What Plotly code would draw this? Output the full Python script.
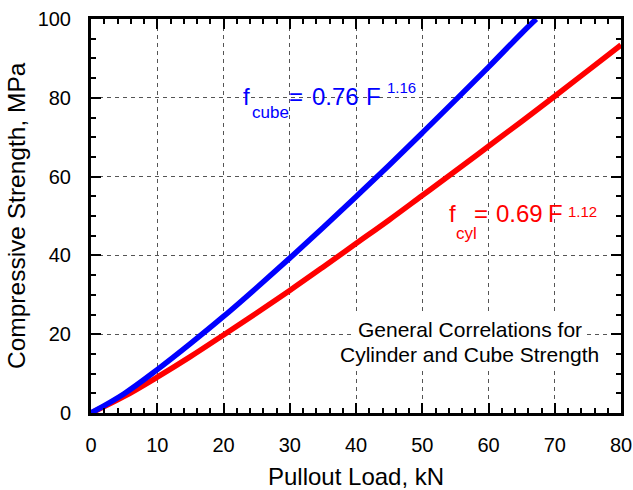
import plotly.graph_objects as go

# Pullout load, kN
load_cube = [0, 5, 10, 15, 20, 25, 30, 35, 40, 45, 50, 55, 60, 65, 67.2]
strength_cube = [0, 4.9, 11.0, 17.6, 24.5, 31.8, 39.3, 47.0, 54.9, 62.9, 71.1, 79.4, 87.8, 96.4, 100]

load_cyl = [0, 5, 10, 15, 20, 25, 30, 35, 40, 45, 50, 55, 60, 65, 70, 75, 80]
strength_cyl = [0, 4.2, 9.1, 14.3, 19.8, 25.4, 31.1, 37.0, 43.0, 49.0, 55.2, 61.4, 67.7, 74.0, 80.4, 86.9, 93.4]

x_ticks = [0, 10, 20, 30, 40, 50, 60, 70, 80]
y_ticks = [0, 20, 40, 60, 80, 100]
x_range = [0, 80]
y_range = [0, 100]

FONT = "Liberation Sans, Arial, sans-serif"
BLUE = "#0000ff"
RED = "#ff0000"

fig = go.Figure()
fig.add_trace(go.Scatter(x=load_cyl, y=strength_cyl, mode="lines",
                         line=dict(color=RED, width=5.5, shape="spline"),
                         showlegend=False))
# blue curve on the overlay subplot (drawn on top, as in the reference)
fig.add_trace(go.Scatter(x=load_cube, y=strength_cube, mode="lines", xaxis="x2", yaxis="y2",
                         line=dict(color=BLUE, width=5.5, shape="spline"),
                         showlegend=False))

# main axes: labels + dashed grid (transparent outside ticks only set the label gap)
label_axis = dict(
    showline=False, ticks="outside", tickcolor="rgba(0,0,0,0)", tickwidth=1,
    showgrid=True, gridcolor="#555", gridwidth=1, griddash="4px,4px",
    zeroline=False, automargin=False,
    tickfont=dict(family=FONT, size=20, color="black"),
)
# overlay axes: frame + inside major/minor ticks on all four sides
frame_axis = dict(
    showline=True, linecolor="black", linewidth=2.5, mirror="allticks",
    ticks="inside", ticklen=10, tickwidth=2, tickcolor="black",
    showgrid=False, zeroline=False, showticklabels=False, automargin=False,
)

fig.update_layout(
    xaxis=dict(range=x_range, tickvals=x_ticks, ticklen=14, **label_axis),
    yaxis=dict(range=y_range, tickvals=y_ticks, ticklen=15, **label_axis),
    xaxis2=dict(range=x_range, tickvals=x_ticks, overlaying="x", anchor="y2",
                minor=dict(dtick=2, ticks="inside", ticklen=5, tickwidth=2, tickcolor="black", showgrid=False),
                **frame_axis),
    yaxis2=dict(range=y_range, tickvals=y_ticks, overlaying="y", anchor="x2",
                minor=dict(dtick=5, ticks="inside", ticklen=5, tickwidth=2, tickcolor="black", showgrid=False),
                **frame_axis),
)

# axis titles
fig.add_annotation(x=0.5, y=-0.16, xref="paper", yref="paper", xanchor="center", yanchor="middle",
                   text="Pullout Load, kN", showarrow=False,
                   font=dict(family=FONT, size=24, color="black"))
fig.add_annotation(x=-0.1415, y=0.5, xref="paper", yref="paper", xanchor="center", yanchor="middle",
                   text="Compressive Strength, MPa", showarrow=False, textangle=-90,
                   font=dict(family=FONT, size=24.5, color="black"))


def piece(x, y, text, size, color):
    fig.add_annotation(x=x, y=y, xref="x", yref="y", xanchor="left", yanchor="middle",
                       text=text, showarrow=False,
                       font=dict(family=FONT, size=size, color=color))


# f_cube = 0.76 F^1.16
piece(22.64, 80.36, "f", 24, BLUE)
piece(24.0, 76.3, "cube", 17, BLUE)
piece(29.58, 80.36, "=", 24, BLUE)
piece(33.06, 80.36, "0.76", 24, BLUE)
piece(41.2, 80.36, "F", 24, BLUE)
piece(44.45, 82.54, "1.16", 15, BLUE)

# f_cyl = 0.69 F^1.12
piece(53.66, 50.66, "f", 24, RED)
piece(54.79, 45.6, "cyl", 17, RED)
piece(57.51, 50.66, "=", 24, RED)
piece(60.83, 50.66, "0.69", 24, RED)
piece(68.7, 50.66, "F", 24, RED)
piece(71.7, 51.14, "1.12", 15, RED)

note_lines = ["General Correlations for", "Cylinder and Cube Strength"]
for line_text, yc in zip(note_lines, [21.2, 14.9]):
    fig.add_annotation(x=57.2, y=yc, xref="x", yref="y", xanchor="center", yanchor="middle",
                       text=line_text, showarrow=False,
                       font=dict(family=FONT, size=21, color="black"),
                       bgcolor="white", borderpad=3)

fig.update_layout(width=633, height=490,
                  margin=dict(l=91, r=12, t=19, b=77, autoexpand=False),
                  plot_bgcolor="white", paper_bgcolor="white")
fig.write_html("out.html", config={"displayModeBar": False},
               post_script="document.body.style.margin='0';document.body.style.padding='0';")
